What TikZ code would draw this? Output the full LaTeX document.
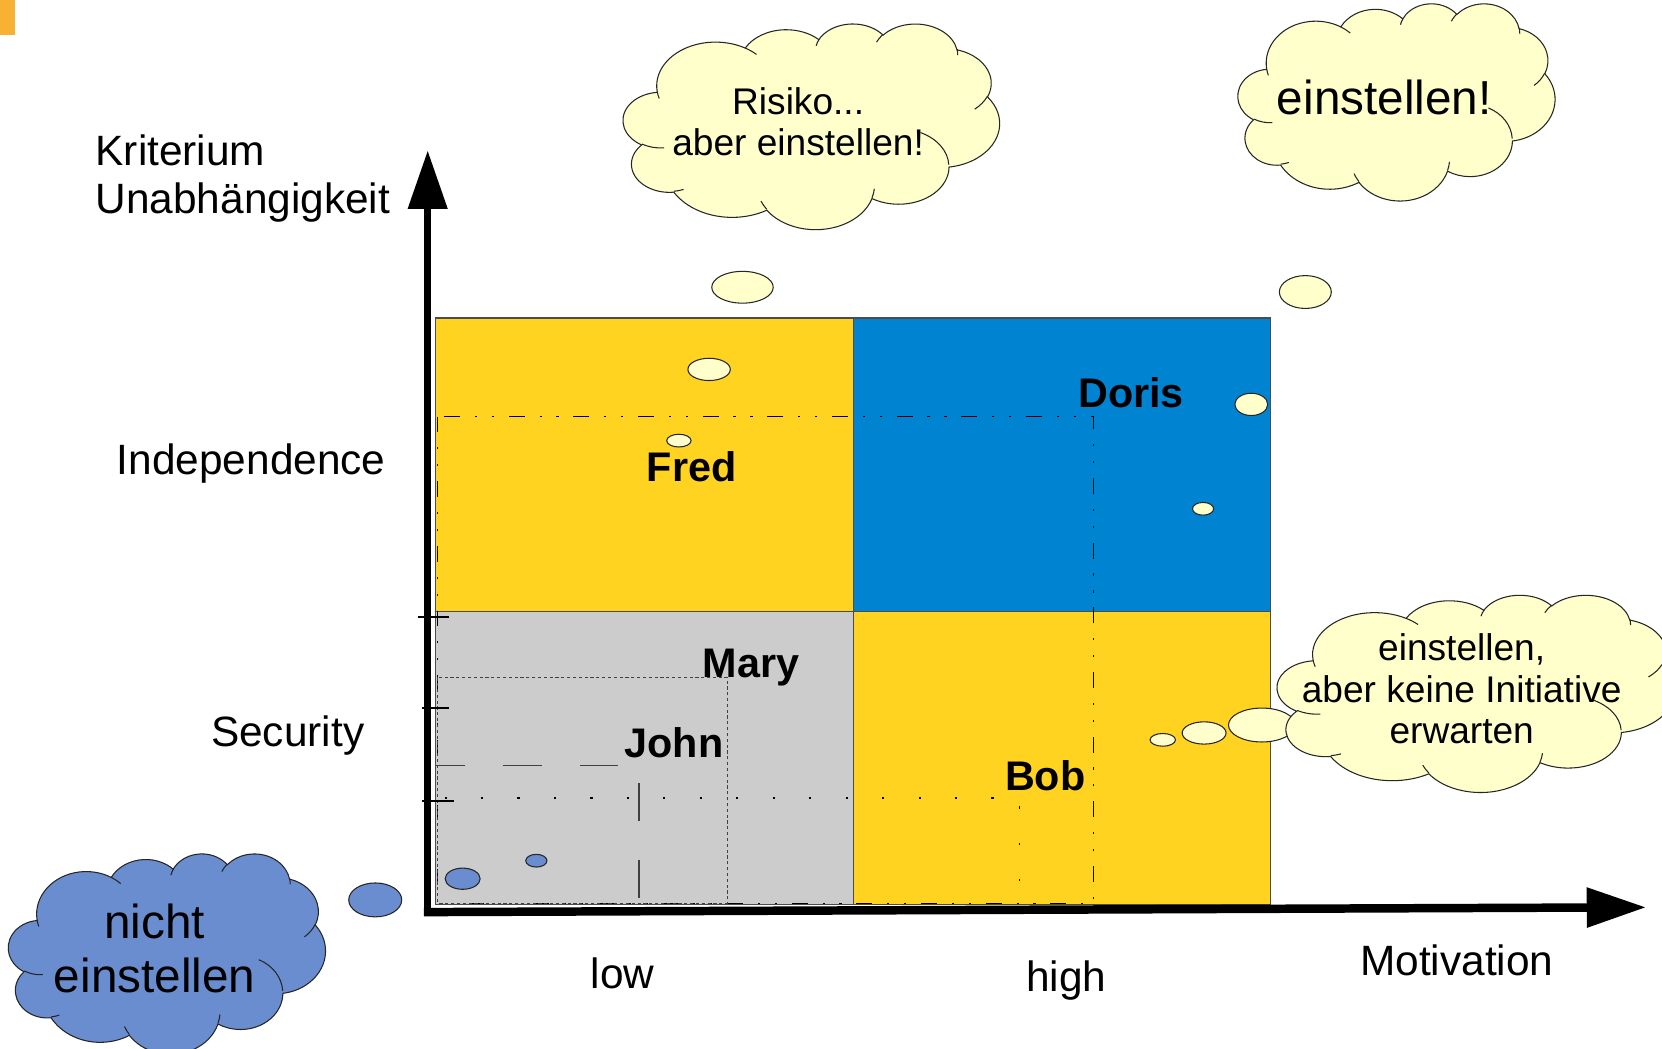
\documentclass[tikz,border=0pt]{standalone}
\usepackage{fontspec}
\setmainfont{Liberation Sans}
\usetikzlibrary{arrows.meta}

\definecolor{qyellow}{HTML}{FFD320}
\definecolor{qblue}{HTML}{0084D1}
\definecolor{qgray}{HTML}{CCCCCC}
\definecolor{cloudfill}{HTML}{FFFFCC}
\definecolor{cloudblue}{HTML}{6A8DCF}
\definecolor{barorange}{HTML}{F8B133}

% OOXML-like arcTo (visual angles) -> TikZ arc (parametric angles)
\newcommand\ooaddarc[5]{%
  \pgfmathsetmacro\ooS{atan2((#2)*sin(#4),(#3)*cos(#4))}%
  \pgfmathsetmacro\ooE{atan2((#2)*sin((#4)+(#5)),(#3)*cos((#4)+(#5)))}%
  \pgfmathsetmacro\ooD{mod(\ooE-\ooS+720,360)}%
  \xdef#1{\unexpanded\expandafter{#1} arc[x radius=#2, y radius=#3, start angle=\ooS, delta angle=\ooD]}%
}
\newcommand\ooaddmove[3]{%
  \xdef#1{\unexpanded\expandafter{#1} (#2,#3)}%
}

\gdef\cloudouter{}
\ooaddarc\cloudouter{67.53}{91.90}{-190.4875}{123.7805}
\ooaddarc\cloudouter{53.33}{72.67}{-144.1024}{89.9452}
\ooaddarc\cloudouter{43.65}{59.45}{-145.8079}{99.7230}
\ooaddarc\cloudouter{48.57}{65.95}{-130.9861}{117.2417}
\ooaddarc\cloudouter{53.33}{72.73}{-78.7089}{109.0269}
\ooaddarc\cloudouter{67.75}{92.20}{-46.2673}{130.2690}
\ooaddarc\cloudouter{57.85}{78.67}{0.6250}{114.0333}
\ooaddarc\cloudouter{67.52}{92.15}{22.4516}{115.1726}
\ooaddarc\cloudouter{77.20}{105.43}{66.2426}{75.7110}
\ooaddarc\cloudouter{43.60}{59.18}{-274.9421}{146.7356}
\ooaddarc\cloudouter{43.45}{59.45}{-246.8285}{152.5189}

\gdef\cloudinner{}
\ooaddmove\cloudinner{46.93}{261.77}
\ooaddarc\cloudinner{43.45}{59.45}{86.7420}{26.4295}
\ooaddmove\cloudinner{69.28}{348.99}
\ooaddarc\cloudinner{43.60}{59.18}{73.6105}{11.4475}
\ooaddmove\cloudinner{164.78}{390.90}
\ooaddarc\cloudinner{67.52}{92.15}{137.6242}{14.0811}
\ooaddmove\cloudinner{288.27}{347.51}
\ooaddarc\cloudinner{67.52}{92.15}{6.4533}{15.9984}
\ooaddmove\cloudinner{341.29}{229.54}
\ooaddarc\cloudinner{57.85}{78.67}{-70.2924}{66.9293}
\ooaddmove\cloudinner{417.98}{153.54}
\ooaddarc\cloudinner{53.33}{72.73}{30.3180}{27.7515}
\ooaddmove\cloudinner{383.24}{54.26}
\ooaddarc\cloudinner{48.57}{65.95}{-13.7443}{14.8589}
\ooaddmove\cloudinner{290.78}{39.52}
\ooaddarc\cloudinner{48.57}{65.95}{-149.1815}{18.1954}
\ooaddmove\cloudinner{221.41}{47.20}
\ooaddarc\cloudinner{43.65}{59.45}{-163.4943}{17.6864}
\ooaddmove\cloudinner{140.00}{51.92}
\ooaddarc\cloudinner{67.53}{91.90}{-66.7070}{12.3194}
\ooaddmove\cloudinner{41.27}{157.89}
\ooaddarc\cloudinner{67.53}{91.90}{157.6544}{11.8582}

\newcommand\drawcloud[5]{% x y w h fill
  \pgfmathsetmacro\cux{(#3)/432}%
  \pgfmathsetmacro\cuy{(#4)/432}%
  \begin{scope}[shift={(#1,#2)}, x=\cux pt, y=-\cuy pt]
    \draw[cloudedge, fill=#5] (39,143.7) \cloudouter -- cycle;
    \draw[cloudedge] \cloudinner;
  \end{scope}%
}

\tikzset{
  cloudedge/.style={draw=black!85, line width=1pt},
  quad/.style={draw=black!70, line width=1pt},
  lbl/.style={font=\fontsize{40}{45}\selectfont, inner sep=0pt, text=black},
  nm/.style={font=\bfseries\fontsize{39}{45}\selectfont, inner sep=0pt, text=black},
  ctext/.style={font=\fontsize{35}{39}\selectfont, inner sep=0pt, align=center, text=black},
  dashdotline/.style={draw=black, line width=1pt, dash pattern=on 15pt off 14pt on 2pt off 14pt on 2pt off 14pt},
  maryline/.style={draw=black!75, line width=1pt, dash pattern=on 3pt off 2.5pt},
  johnline/.style={draw=black!75, line width=1.5pt, dash pattern=on 36pt off 36pt},
  bobline/.style={draw=black, line width=1.3pt, dash pattern=on 2pt off 32.4pt},
  tickmark/.style={draw=black, line width=2pt},
  bubble/.style={cloudedge, fill=cloudfill},
  bluebubble/.style={cloudedge, fill=cloudblue},
}

\begin{document}
\begin{tikzpicture}[x=1pt, y=-1pt]
\useasboundingbox (0,0) rectangle (1568,989);
\clip (0,0) rectangle (1568,989);
\fill[white] (0,0) rectangle (1568,989);

% orange corner mark
\fill[barorange] (0,0) rectangle (14,33);

% quadrants
\draw[quad, fill=qyellow] (411,300) rectangle (805,577);
\draw[quad, fill=qblue]   (805,300) rectangle (1199,577);
\draw[quad, fill=qgray]   (411,577) rectangle (805,853);
\draw[quad, fill=qyellow] (805,577) rectangle (1199,853);

% guide lines
\draw[dashdotline] (413,393) rectangle (1032,852);
\draw[maryline] (413,639) rectangle (686,852);
\draw[johnline, dash phase=8pt] (411,722) -- (603,722);
\draw[johnline, dash phase=55pt] (603,722) -- (603,852);
\draw[bobline, dash phase=26pt] (411,753) -- (962,753) -- (962,852);

% axes
\coordinate (ybase) at (403.5,864);
\coordinate (ytip) at (403.5,142);
\coordinate (xbase) at (400,860.5);
\coordinate (xtip) at (1553,856);
\draw[line width=6.5pt, -{Triangle[length=55pt,width=36pt]}] (ybase) -- (ytip);
\draw[line width=8pt, -{Triangle[length=56pt,width=36pt]}] (xbase) -- (xtip);

% ticks
\draw[tickmark] (394,582) -- (424,582);
\draw[tickmark] (398,668) -- (424,668);
\draw[tickmark] (398,756) -- (428,756);

% names
\node[nm, anchor=base west] (fred)  at (610,454) {Fred};
\node[nm, anchor=base west] (doris) at (1017,384) {Doris};
\node[nm, anchor=base west] (mary)  at (663,639) {Mary};
\node[nm, anchor=base west] (john)  at (589,715) {John};
\node[nm, anchor=base west] (bob)   at (948,746) {Bob};

% thought bubble trails
\draw[bubble] (700.5,271) ellipse [x radius=29, y radius=15];
\draw[bubble] (669,348.5) ellipse [x radius=20, y radius=10.5];
\draw[bubble] (640.5,415.7) ellipse [x radius=11.5, y radius=6];

\draw[bubble] (1231.5,275.5) ellipse [x radius=24.5, y radius=15.5];
\draw[bubble] (1180.5,381.5) ellipse [x radius=15.5, y radius=10.5];
\draw[bubble] (1135,480) ellipse [x radius=10, y radius=6];

\draw[bubble] (1190.5,684) ellipse [x radius=31.5, y radius=16];
\draw[bubble] (1136,691.5) ellipse [x radius=20.7, y radius=10.5];
\draw[bubble] (1097,698) ellipse [x radius=12, y radius=6];

\draw[bluebubble] (354,849) ellipse [x radius=25, y radius=16];
\draw[bluebubble] (436.5,829) ellipse [x radius=16.5, y radius=10];
\draw[bluebubble] (506,812) ellipse [x radius=10, y radius=6];

% clouds
\drawcloud{588}{22}{355}{194}{cloudfill}
\drawcloud{1168}{3}{299}{186}{cloudfill}
\drawcloud{1205}{561}{375}{186}{cloudfill}
\drawcloud{8}{805}{299}{189}{cloudblue}

% cloud texts
\node[ctext] (risiko) at (753,115) {Risiko...\\aber einstellen!};
\node[ctext, font=\fontsize{45}{50}\selectfont] (einst) at (1306,92) {einstellen!};
\node[ctext] (keine) at (1379,650) {einstellen,\\aber keine Initiative\\erwarten};
\node[ctext, font=\fontsize{45}{51}\selectfont] (nicht) at (146,895) {nicht\\einstellen};

% axis labels
\node[lbl, anchor=north west, align=left] (krit) at (90,127) {Kriterium\\Unabhängigkeit};
\node[lbl, anchor=base west] (indep) at (110,448) {Independence};
\node[lbl, anchor=base west] (secur) at (199,704) {Security};
\node[lbl, anchor=base west] (low)   at (557,933) {low};
\node[lbl, anchor=base west] (high)  at (968,935) {high};
\node[lbl, anchor=base west] (motiv) at (1283,920) {Motivation};
\end{tikzpicture}
\end{document}
